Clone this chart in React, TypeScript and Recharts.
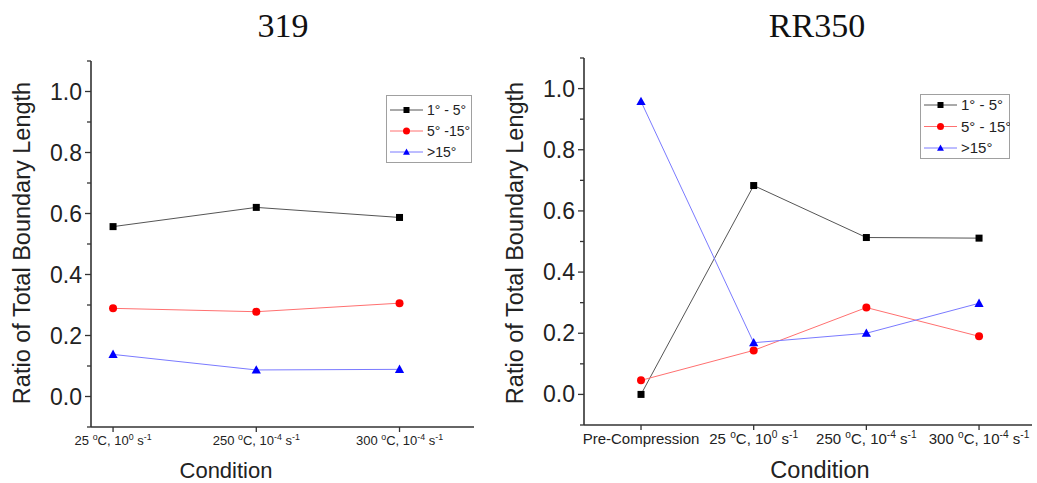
import React from 'react';
import { LineChart, Line, XAxis, YAxis } from 'recharts';

// ---------- data ----------
const leftCategories = ['25 {o}C, 10{0} s{-1}', '250 {o}C, 10{-4} s{-1}', '300 {o}C, 10{-4} s{-1}'];
const left1to5 = [0.557, 0.62, 0.587];
const left5to15 = [0.289, 0.278, 0.306];
const leftOver15 = [0.138, 0.087, 0.089];

const rightCategories = ['Pre-Compression', '25 {o}C, 10{0} s{-1}', '250 {o}C, 10{-4} s{-1}', '300 {o}C, 10{-4} s{-1}'];
const right1to5 = [0, 0.683, 0.513, 0.511];
const right5to15 = [0.046, 0.144, 0.284, 0.19];
const rightOver15 = [0.958, 0.169, 0.2, 0.298];

const yTicks = [-0.1, 0, 0.1, 0.2, 0.3, 0.4, 0.5, 0.6, 0.7, 0.8, 0.9, 1.0, 1.1];
const leftLegend = ['1° - 5°', '5° -15°', '>15°'];
const rightLegend = ['1° - 5°', '5° - 15°', '>15°'];
const titles = ['319', 'RR350'];
const yLabel = 'Ratio of Total Boundary Length';
const xLabel = 'Condition';

// ---------- styles ----------
const SANS = '"Liberation Sans", Arial, sans-serif';
const SERIF = '"Liberation Serif", "Times New Roman", serif';
const series = [
  { key: 's1', shape: 'square', marker: '#000000', line: '#555555' },
  { key: 's2', shape: 'circle', marker: '#ff0000', line: '#ff7070' },
  { key: 's3', shape: 'triangle', marker: '#0000ff', line: '#7a7aff' },
];

function buildRows(a: number[], b: number[], c: number[]) {
  return a.map((v, i) => ({ x: i + 1, s1: v, s2: b[i], s3: c[i] }));
}
const leftRows = buildRows(left1to5, left5to15, leftOver15);
const rightRows = buildRows(right1to5, right5to15, rightOver15);

function Marker({ cx, cy, shape, color, size }: any) {
  if (cx == null || cy == null) return null;
  if (shape === 'square') {
    return <rect x={cx - size / 2} y={cy - size / 2} width={size} height={size} fill={color} />;
  }
  if (shape === 'circle') {
    return <circle cx={cx} cy={cy} r={size / 2 + 0.5} fill={color} />;
  }
  const h = size * 1.0;
  const w = size * 1.15;
  return (
    <polygon
      points={`${cx},${cy - h * 0.6} ${cx - w / 2},${cy + h * 0.45} ${cx + w / 2},${cy + h * 0.45}`}
      fill={color}
    />
  );
}

function richTspans(label: string, fontSize: number) {
  const parts = label.split(/(\{[^}]*\})/).filter((p) => p.length > 0);
  const out: any[] = [];
  let raised = false;
  parts.forEach((p, i) => {
    if (p.startsWith('{')) {
      out.push(
        <tspan key={i} fontSize={fontSize * 0.68} dy={raised ? 0 : -fontSize * 0.38}>
          {p.slice(1, -1)}
        </tspan>
      );
      raised = true;
    } else {
      out.push(
        <tspan key={i} fontSize={fontSize} dy={raised ? fontSize * 0.38 : 0}>
          {p}
        </tspan>
      );
      raised = false;
    }
  });
  return out;
}

function makeXTick(labels: string[], fontSize: number, dy: number) {
  return (props: any) => {
    const { x, y, payload } = props;
    const label = labels[Math.round(payload.value) - 1] ?? '';
    return (
      <text x={x} y={y + dy} textAnchor="middle" fontFamily={SANS} fill="#222" fontSize={fontSize}>
        {richTspans(label, fontSize)}
      </text>
    );
  };
}

function YTick(props: any) {
  const { x, y, payload } = props;
  const v = payload.value;
  const tenth = Math.round(v * 10);
  const major = tenth % 2 === 0 && tenth >= 0 && tenth <= 10;
  return (
    <g>
      <line x1={x - (major ? 6 : 4)} x2={x} y1={y} y2={y} stroke="#333" strokeWidth={1.3} />
      {major && (
        <text x={x - 9} y={y} dy={8} textAnchor="end" fontFamily={SANS} fontSize={23} fill="#222">
          {v.toFixed(1)}
        </text>
      )}
    </g>
  );
}

function LegendBox({ labels, fontSize, rowGap, left, top, w, h, firstRow }: any) {
  return (
    <div
      style={{
        position: 'absolute',
        left,
        top,
        width: w,
        height: h,
        border: '1.5px solid #a0a0a0',
        background: '#fff',
        boxSizing: 'border-box',
      }}
    >
      <svg width={w} height={h} style={{ position: 'absolute', left: -1.5, top: -1.5 }}>
        {labels.map((lab: string, i: number) => {
          const s = series[i];
          const cy = firstRow + i * rowGap;
          return (
            <g key={lab}>
              <line x1={4} x2={37} y1={cy} y2={cy} stroke={s.line} strokeWidth={1} />
              <Marker cx={20.5} cy={cy} shape={s.shape} color={s.marker} size={6} />
              <text x={41} y={cy + fontSize * 0.36} fontFamily={SANS} fontSize={fontSize} fill="#222">
                {lab}
              </text>
            </g>
          );
        })}
      </svg>
    </div>
  );
}

function Panel({ rows, labels, width, margin, xDomain, xTicks, xFont, xDy }: any) {
  return (
    <LineChart width={width} height={483} data={rows} margin={margin}>
      <XAxis
        type="number"
        dataKey="x"
        domain={xDomain}
        ticks={xTicks}
        interval={0}
        allowDataOverflow
        height={30}
        axisLine={{ stroke: '#333', strokeWidth: 1.6 }}
        tickLine={{ stroke: '#333', strokeWidth: 1.3 }}
        tickSize={5}
        tickMargin={2}
        tick={makeXTick(labels, xFont, xDy)}
      />
      <YAxis
        type="number"
        domain={[-0.1, 1.1]}
        ticks={yTicks}
        interval={0}
        allowDataOverflow
        width={60}
        axisLine={{ stroke: '#333', strokeWidth: 1.6 }}
        tickLine={false}
        tickSize={0}
        tickMargin={0}
        tick={YTick}
      />
      {series.map((s) => (
        <Line
          key={s.key}
          dataKey={s.key}
          stroke={s.line}
          strokeWidth={1}
          isAnimationActive={false}
          dot={(p: any) => (
            <Marker key={`${s.key}-${p.index}`} cx={p.cx} cy={p.cy} shape={s.shape} color={s.marker} size={s.shape === 'triangle' ? 8 : 7} />
          )}
          activeDot={false}
        />
      ))}
    </LineChart>
  );
}

export default function App() {
  return (
    <div style={{ position: 'absolute', left: 0, top: 0, width: 1037, height: 483, background: '#fff', overflow: 'hidden' }}>
      <div style={{ position: 'absolute', left: 0, top: 0 }}>
        <Panel
          rows={leftRows}
          labels={leftCategories}
          width={520}
          margin={{ top: 61, right: 46, bottom: 26, left: 31 }}
          xDomain={[0.846, 3.52]}
          xTicks={[1, 2, 3]}
          xFont={13}
          xDy={11}
        />
      </div>
      <div style={{ position: 'absolute', left: 520, top: 0 }}>
        <Panel
          rows={rightRows}
          labels={rightCategories}
          width={517}
          margin={{ top: 58, right: 5, bottom: 28, left: 4 }}
          xDomain={[0.494, 4.47]}
          xTicks={[1, 2, 3, 4]}
          xFont={15}
          xDy={12}
        />
      </div>
      <LegendBox labels={leftLegend} fontSize={14} rowGap={21} left={386} top={95} w={86} h={68} firstRow={15} />
      <LegendBox labels={rightLegend} fontSize={15} rowGap={21.5} left={920} top={94} w={90} h={65} firstRow={11} />
      <svg width={1037} height={483} style={{ position: 'absolute', left: 0, top: 0, pointerEvents: 'none' }}>
        <text x={283} y={37} textAnchor="middle" fontFamily={SERIF} fontSize={34} fill="#111">{titles[0]}</text>
        <text x={817} y={37} textAnchor="middle" fontFamily={SERIF} fontSize={34} fill="#111">{titles[1]}</text>
        <text transform="translate(30,243) rotate(-90)" textAnchor="middle" fontFamily={SANS} fontSize={23.5} fill="#222">{yLabel}</text>
        <text transform="translate(523,243) rotate(-90)" textAnchor="middle" fontFamily={SANS} fontSize={23.5} fill="#222">{yLabel}</text>
        <text x={226} y={478} textAnchor="middle" fontFamily={SANS} fontSize={22} fill="#222">{xLabel}</text>
        <text x={820} y={478} textAnchor="middle" fontFamily={SANS} fontSize={23.5} fill="#222">{xLabel}</text>
      </svg>
    </div>
  );
}
